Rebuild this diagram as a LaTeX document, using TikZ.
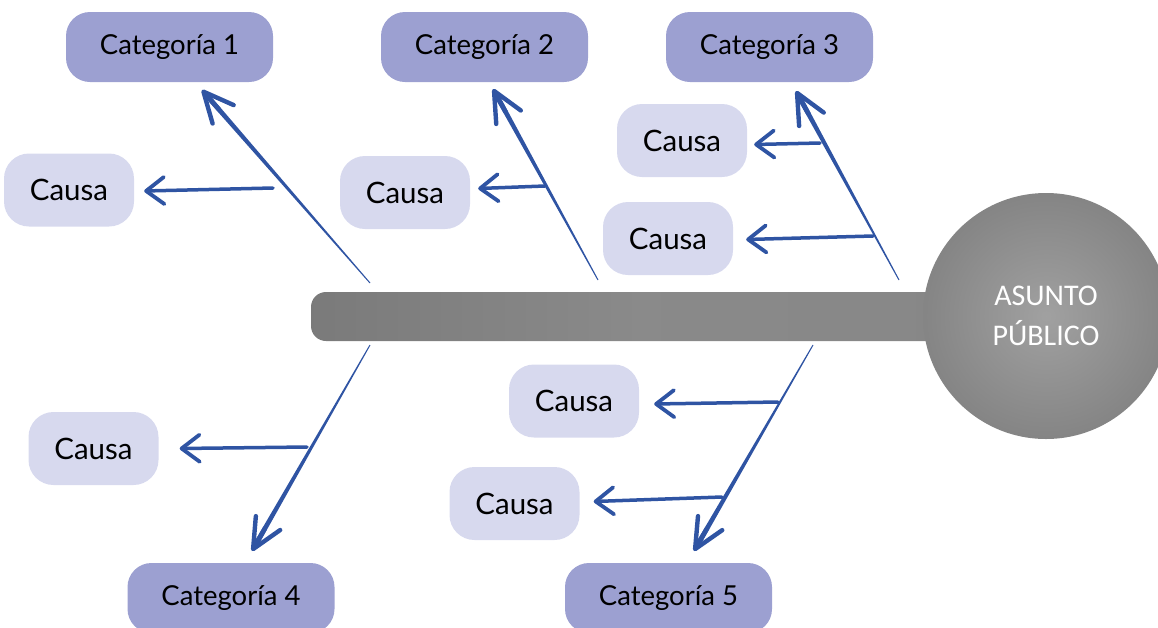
\documentclass[tikz,border=0pt]{standalone}
\usepackage{fontspec}
\setmainfont{Lato}
\newfontfamily\calibfont{Carlito}
\usetikzlibrary{calc,arrows.meta}
\definecolor{catfill}{HTML}{9CA0D1}
\definecolor{causefill}{HTML}{D7D9EE}
\definecolor{bonec}{HTML}{2F54A3}
\definecolor{spinec}{HTML}{878787}
\newcommand\bonetaper[4]{%
  \coordinate (tmpq) at ($(#2)!10pt!(#1)$);
  \fill[bonec] ($(#1)!#3!90:(#2)$) -- ($(tmpq)!#4!-90:(#1)$) -- ($(tmpq)!#4!90:(#1)$) -- ($(#1)!#3!-90:(#2)$) -- cycle;
  \draw[bonehead] ($(#2)!26pt!(#1)$) -- (#2);}
\begin{document}
\begin{tikzpicture}[x=1pt,y=-1pt,
  cat/.style={fill=catfill, rounded corners=24pt, minimum width=207pt, minimum height=70pt, inner sep=0pt, font=\fontsize{27.5}{30}\selectfont},
  cause/.style={fill=causefill, rounded corners=25pt, minimum width=130pt, minimum height=73pt, inner sep=0pt, font=\fontsize{29.5}{32}\selectfont},
  causearrow/.style={draw=bonec, line width=3.5pt, line cap=round, -{Straight Barb[length=18pt,width=27pt,line width=3.8pt,round]}},
  bonehead/.style={draw=bonec, line width=4.6pt, line cap=round, -{Straight Barb[length=30pt,width=28pt,line width=4.4pt,round]}}
]
\useasboundingbox (0,0) rectangle (1158,627);
% spine and head
\shade[left color=black!52, right color=black!47, middle color=black!46, rounded corners=15pt] (311,292) rectangle (960,341);
\node[circle, minimum size=246pt, inner sep=0pt, shading=radial, inner color=black!37, outer color=black!48,
  font=\calibfont\fontsize{30}{40}\selectfont, text=white, align=center] (head) at (1046,316) {ASUNTO\\PÚBLICO};
% categories
\node[cat] (c1) at (169.5,47) {Categoría 1};
\node[cat] (c2) at (484.5,47) {Categoría 2};
\node[cat] (c3) at (769.5,47) {Categoría 3};
\node[cat] (c4) at (231,598) {Categoría 4};
\node[cat] (c5) at (668.5,598) {Categoría 5};
% causes
\node[cause] (k1) at (69,190) {Causa};
\node[cause] (k2) at (405,192.5) {Causa};
\node[cause] (k3a) at (682,140.5) {Causa};
\node[cause] (k3b) at (668,238.5) {Causa};
\node[cause] (k4) at (93.5,448.5) {Causa};
\node[cause] (k5a) at (574,401) {Causa};
\node[cause] (k5b) at (514.5,503.5) {Causa};
% bone coordinates
\coordinate (b1) at (370,283); \coordinate (t1) at (202,90);
\coordinate (b2) at (598,280); \coordinate (t2) at (493,89);
\coordinate (b3) at (899,280); \coordinate (t3) at (796,91);
\coordinate (b4) at (370,345); \coordinate (t4) at (252,551);
\coordinate (b5) at (813,345); \coordinate (t5) at (694,551);
\bonetaper{b1}{t1}{0.5pt}{2.5pt}
\bonetaper{b2}{t2}{0.5pt}{2.5pt}
\bonetaper{b3}{t3}{0.5pt}{2.5pt}
\bonetaper{b4}{t4}{0.5pt}{2.5pt}
\bonetaper{b5}{t5}{0.5pt}{2.5pt}
% cause arrows
\coordinate (s1) at (273,188);
\coordinate (s2) at (545,186);
\coordinate (s3a) at (820,143);
\coordinate (s3b) at (873,236);
\coordinate (s4) at (307,447);
\coordinate (s5a) at (778,402);
\coordinate (s5b) at (722,497);
\draw[causearrow] (s1) -- ($(k1.east)+(10,1)$);
\draw[causearrow] (s2) -- ($(k2.east)+(8,-4)$);
\draw[causearrow] (s3a) -- ($(k3a.east)+(7,4)$);
\draw[causearrow] (s3b) -- ($(k3b.east)+(13,1)$);
\draw[causearrow] (s4) -- ($(k4.east)+(21,0)$);
\draw[causearrow] (s5a) -- ($(k5a.east)+(15,3)$);
\draw[causearrow] (s5b) -- ($(k5b.east)+(14,-2)$);
\end{tikzpicture}
\end{document}
